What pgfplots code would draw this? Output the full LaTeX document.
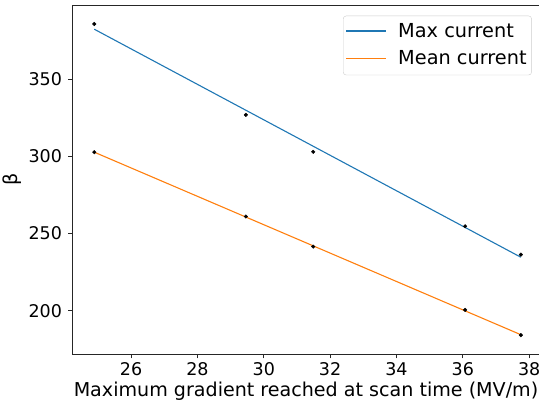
\documentclass[border=0pt]{standalone}
\usepackage{fontspec}
\setmainfont{DejaVu Sans}
\usepackage{pgfplots}
\pgfplotsset{compat=1.18}
\definecolor{mblue}{HTML}{1F77B4}
\definecolor{morange}{HTML}{FF7F0E}
\begin{document}
\fontsize{18}{21}\selectfont
\begin{tikzpicture}
\useasboundingbox (0,0) rectangle (539pt,403pt);
\begin{axis}[
  at={(72.7pt,49pt)}, anchor=south west,
  scale only axis, width=469.4pt, height=348.4pt,
  xmin=24.24, xmax=38.39, ymin=171.9, ymax=397.7,
  xtick={26,28,...,38}, ytick={200,250,300,350},
  tick align=outside, tick pos=left, major tick length=4.5pt,
  /pgf/number format/assume math mode=true,
  /pgf/number format/1000 sep={},
  tick label style={font=\fontsize{17.5}{21}\selectfont},
  xticklabel style={yshift=2pt},
  label style={font=\fontsize{19.1}{23}\selectfont},
  xlabel={Maximum gradient reached at scan time (MV/m)},
  ylabel={β},
  xlabel style={at={(axis description cs:0.497,-0.106)}, anchor=center},
  ylabel style={at={(axis description cs:-0.128,0.5)}, anchor=center, rotate=0},
  axis line style={line width=0.8pt, black!85},
  every tick/.style={black!85, line width=0.8pt},
  legend style={at={(axis description cs:0.978,0.971)}, anchor=north east,
    draw=black!20, rounded corners=3pt, fill=white,
    font=\fontsize{19.3}{23}\selectfont, inner xsep=3pt, inner ysep=5.5pt,
    row sep=6.6pt},
  legend cell align=left,
  legend image code/.code={\path[draw=none, sharp corners, fill=#1] (0pt,-0.2pt) rectangle (40pt,1.6pt); \path[draw=none] (50pt,0pt);},
]
\addlegendimage{mblue}
\addlegendentry{Max current}
\addlegendimage{morange}
\addlegendentry{Mean current}
\addplot[mblue, line width=1.1pt, forget plot] coordinates {(24.89,382.4) (37.75,234.6)};
\addplot[morange, line width=1.1pt, forget plot] coordinates {(24.89,302.7) (37.75,184.4)};
\addplot[only marks, mark=*, mark size=1.8pt, black, forget plot] coordinates {
  (24.89,385.8) (29.46,326.9) (31.49,302.9) (36.07,254.7) (37.75,236.3)};
\addplot[only marks, mark=*, mark size=1.8pt, black, forget plot] coordinates {
  (24.89,302.7) (29.46,261.0) (31.49,241.5) (36.07,200.5) (37.75,184.1)};
\end{axis}
\end{tikzpicture}
\end{document}
